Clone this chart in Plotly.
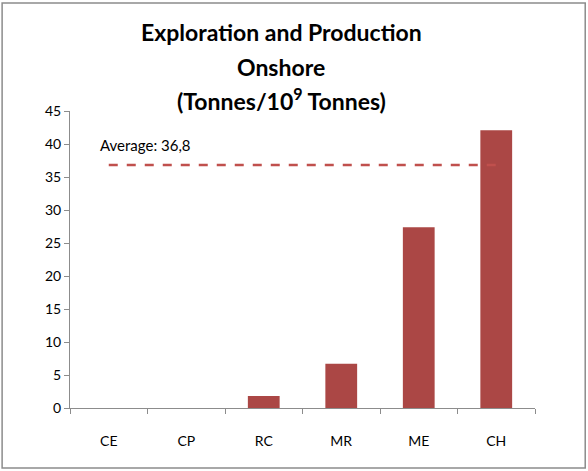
import plotly.graph_objects as go

categories = ["CE", "CP", "RC", "MR", "ME", "CH"]
values = [0, 0, 1.8, 6.7, 27.4, 42.1]
average = 36.8
title_lines = ["Exploration and Production", "Onshore", "(Tonnes/10<sup>9</sup> Tonnes)"]

bar_color = "#AB4745"
axis_color = "#8C8C8C"
font_family = "Lato, Liberation Sans, Arial, sans-serif"

fig = go.Figure()

fig.add_trace(go.Bar(
    x=categories,
    y=values,
    width=0.41,
    marker=dict(color=bar_color, line=dict(width=0)),
    showlegend=False,
))

# average line across categories
fig.add_trace(go.Scatter(
    x=categories,
    y=[average] * len(categories),
    mode="lines",
    line=dict(color="#C0504D", width=2.5, dash="dash"),
    showlegend=False,
))

fig.add_annotation(
    x=-0.14, y=39.85, xref="x", yref="y",
    text="Average: " + f"{average:.1f}".replace(".", ","),
    showarrow=False, xanchor="left", yanchor="middle",
    font=dict(family=font_family, size=15, color="#000000"),
)

# title, one annotation per line
for line, ypos in zip(title_lines, [1.266, 1.148, 1.04]):
    fig.add_annotation(
        x=0.454, y=ypos, xref="paper", yref="paper",
        text="<b>" + line + "</b>",
        showarrow=False, xanchor="center", yanchor="middle",
        font=dict(family=font_family, size=23, color="#000000"),
    )

# chart border
fig.add_shape(
    type="rect", xref="paper", yref="paper",
    x0=-0.146, x1=1.108, y0=-0.202, y1=1.364,
    line=dict(color="#8C8C8C", width=1.5), fillcolor="rgba(0,0,0,0)",
)

fig.update_layout(
    width=588, height=471,
    margin=dict(l=70, r=53, t=111, b=63),
    paper_bgcolor="white", plot_bgcolor="white",
    font=dict(family=font_family, size=14, color="#000000"),
)

fig.update_xaxes(
    showline=True, linecolor=axis_color, linewidth=1,
    ticks="outside", tickson="boundaries", ticklen=5, tickcolor=axis_color,
    ticklabelstandoff=20,
    showgrid=False, zeroline=False,
    tickfont=dict(family=font_family, size=14, color="#000000"),
)

fig.update_yaxes(
    range=[0, 45], dtick=5,
    showline=True, linecolor=axis_color, linewidth=1,
    ticks="outside", ticklen=5, tickcolor=axis_color,
    showgrid=False, zeroline=False,
    tickfont=dict(family=font_family, size=14, color="#000000"),
)

fig.write_html("out.html", config={"displayModeBar": False},
               post_script="document.body.style.margin='0';")
